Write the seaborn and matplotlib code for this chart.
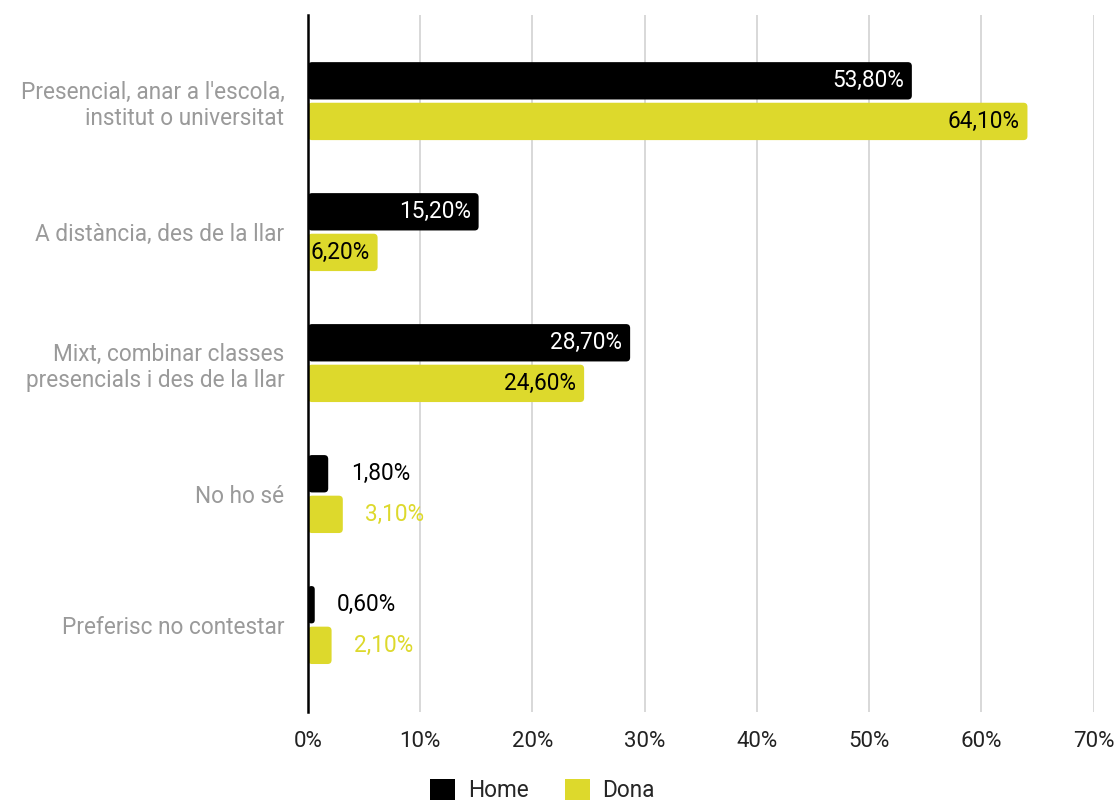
import matplotlib
matplotlib.use("Agg")
import matplotlib.pyplot as plt
from matplotlib.patches import FancyBboxPatch
import seaborn as sns
import pandas as pd

categories = [
    "Presencial, anar a l'escola,\ninstitut o universitat",
    "A distància, des de la llar",
    "Mixt, combinar classes\npresencials i des de la llar",
    "No ho sé",
    "Preferisc no contestar",
]
series = ["Home", "Dona"]
home = [53.8, 15.2, 28.7, 1.8, 0.6]
dona = [64.1, 6.2, 24.6, 3.1, 2.1]
x_ticks = [0, 10, 20, 30, 40, 50, 60, 70]

BLACK = "#000000"
YELLOW = "#DDD92C"
GRID = "#D6D6D6"
LABEL_GRAY = "#9A9A9A"
FS = 16.3

df = pd.DataFrame({
    "categoria": categories * 2,
    "sexe": [series[0]] * len(categories) + [series[1]] * len(categories),
    "valor": home + dona,
})

sns.set_theme(style="white")
plt.rcParams["font.family"] = ["Roboto", "DejaVu Sans"]

fig = plt.figure(figsize=(11.16, 8), dpi=100)
ax = fig.add_axes([0.276, 0.11, 0.704, 0.871])

sns.barplot(data=df, y="categoria", x="valor", hue="sexe", order=categories,
            hue_order=series, palette=[BLACK, YELLOW], orient="h",
            width=0.62, gap=0.08, saturation=1, errorbar=None, ax=ax,
            legend=False)

ax.set_xlim(0, 70)
ax.set_ylim(len(categories) - 1 + 0.664, -0.656)
ax.set_xticks(x_ticks)
ax.set_xticklabels([f"{t}%" for t in x_ticks], fontsize=16, color="#222222")
ax.tick_params(axis="x", length=0, pad=14)
ax.tick_params(axis="y", direction="inout", length=16, width=1.4, color=BLACK,
               labelsize=FS, labelcolor=LABEL_GRAY, pad=9)
for lbl in ax.get_yticklabels():
    lbl.set_horizontalalignment("right")
    lbl.set_multialignment("right")
ax.set_xlabel("")
ax.set_ylabel("")

ax.xaxis.grid(True, color=GRID, linewidth=1.3)
ax.set_axisbelow(True)
for side in ["top", "right", "bottom"]:
    ax.spines[side].set_visible(False)
ax.spines["left"].set_color(BLACK)
ax.spines["left"].set_linewidth(1.8)
ax.spines["left"].set_zorder(5)

# Swap the plain rectangles for rounded ones
px_x = ax.bbox.width / 70.0
px_y = ax.bbox.height / (len(categories) - 1 + 0.664 + 0.656)
radius_px = 4.0
bars = list(ax.patches)
for p in bars:
    x0, y0 = p.get_x(), p.get_y()
    w, h = p.get_width(), p.get_height()
    r_x = min(radius_px / px_x, w / 2)
    aspect = (radius_px / px_y) / (radius_px / px_x)
    rp = FancyBboxPatch((x0, y0), w, h,
                        boxstyle=f"round,pad=0,rounding_size={r_x}",
                        mutation_aspect=aspect,
                        facecolor=p.get_facecolor(), edgecolor="none",
                        zorder=p.get_zorder())
    p.set_visible(False)
    ax.add_patch(rp)

# Value labels
n = len(categories)
for i, (vals, inside_col, outside_col) in enumerate(
        [(home, "white", BLACK), (dona, BLACK, YELLOW)]):
    for j, v in enumerate(vals):
        p = bars[i * n + j]
        yc = p.get_y() + p.get_height() / 2
        txt = f"{v:.2f}".replace(".", ",") + "%"
        if v > 5:
            ax.text(v - 0.7, yc, txt, ha="right", va="center",
                    fontsize=FS, color=inside_col, zorder=6)
        else:
            ax.text(v + 2.0, yc, txt, ha="left", va="center",
                    fontsize=FS, color=outside_col, zorder=6)

handles = [plt.Rectangle((0, 0), 1, 1, facecolor=c, edgecolor="none")
           for c in [BLACK, YELLOW]]
fig.legend(handles, series, loc="center", bbox_to_anchor=(0.486, 0.012),
           ncol=2, frameon=False, fontsize=FS, handlelength=1.1,
           handleheight=1.1, columnspacing=1.6, handletextpad=0.55)

fig.savefig("out.png", dpi=100)
